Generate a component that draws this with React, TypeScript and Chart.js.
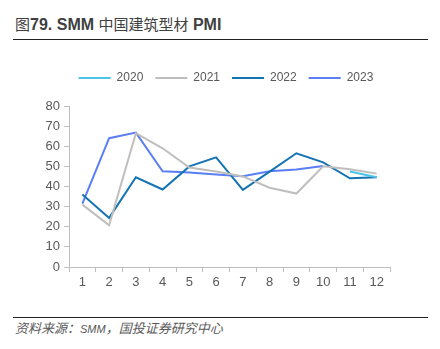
import React, { useEffect, useRef } from "react";
import { Chart, registerables } from "chart.js";

Chart.register(...registerables);

const categories = ["1", "2", "3", "4", "5", "6", "7", "8", "9", "10", "11", "12"];
const s2020 = [null, null, null, null, null, null, null, null, null, null, 47.5, 44.6];
const s2021 = [31, 20.7, 66.5, 59, 49.4, 47.4, 45, 39.4, 36.5, 50, 48.6, 46.4];
const s2022 = [36, 24.4, 44.6, 38.5, 50, 54.5, 38.3, 47.4, 56.5, 52, 44.1, 44.6];
const s2023 = [31.5, 64, 66.8, 47.6, 47, 46, 45.1, 47.6, 48.4, 50.2, null, null];
const seriesNames = ["2020", "2021", "2022", "2023"];
const seriesColors = ["#4cc3ea", "#c0bdbd", "#1473b3", "#5a7ef5"];

const FONT = '"Liberation Sans", Arial, "Noto Sans CJK SC", sans-serif';

export default function App() {
  const ref = useRef<HTMLCanvasElement | null>(null);

  useEffect(() => {
    document.body.style.margin = "0";
    const canvas = ref.current;
    if (!canvas) return;
    const data = [s2020, s2021, s2022, s2023];
    const chart = new Chart(canvas, {
      type: "line",
      data: {
        labels: categories,
        datasets: data.map((d, i) => ({
          label: seriesNames[i],
          data: d,
          borderColor: seriesColors[i],
          backgroundColor: seriesColors[i],
          borderWidth: 2,
          pointRadius: 0,
          tension: 0,
          spanGaps: false,
        })),
      },
      options: {
        animation: false,
        responsive: false,
        maintainAspectRatio: false,
        layout: { padding: { top: 15, left: 0, right: 50, bottom: 0 } },
        plugins: {
          tooltip: { enabled: false },
          legend: {
            position: "top",
            labels: {
              boxWidth: 32,
              boxHeight: 2,
              padding: 12,
              color: "#595959",
              font: { family: FONT, size: 12 },
              generateLabels: (c: any) =>
                Chart.defaults.plugins.legend.labels.generateLabels(c).map((l: any) => ({ ...l, lineWidth: 0 })),
            },
          },
        },
        scales: {
          x: {
            offset: true,
            grid: { display: true, drawOnChartArea: false, drawTicks: true, tickLength: 5, color: "#bfbfbf", offset: true },
            border: { display: true, color: "#bfbfbf" },
            ticks: { color: "#595959", font: { family: FONT, size: 13 }, padding: 3, maxRotation: 0 },
            afterFit: (s: any) => { s.height = 30; },
          },
          y: {
            min: 0,
            max: 80,
            grid: { display: true, drawOnChartArea: false, drawTicks: true, tickLength: 5, color: "#bfbfbf" },
            border: { display: true, color: "#bfbfbf" },
            ticks: { stepSize: 10, color: "#595959", font: { family: FONT, size: 13 }, padding: 4 },
            afterFit: (s: any) => { s.width = 69; },
          },
        },
      },
      plugins: [
        {
          id: "legendGap",
          beforeInit(c: any) {
            const lg = c.legend;
            if (lg) {
              const orig = lg.fit.bind(lg);
              lg.fit = function () {
                orig();
                this.height += 12;
              };
            }
          },
          afterLayout(c: any) {
            const lg = c.legend;
            if (lg) {
              lg.left = 10;
              lg.right = 442;
            }
          },
        },
      ],
    } as any);
    return () => chart.destroy();
  }, []);

  const cjkTitle = { fontWeight: "normal" as const, fontSize: 15 };
  const cjkFoot = { fontSize: 13 };

  return (
    <div style={{ position: "relative", width: 440, height: 349, background: "#fff", overflow: "hidden" }}>
      <div
        style={{
          position: "absolute",
          left: 15,
          top: 15,
          fontFamily: FONT,
          fontSize: 16,
          fontWeight: "bold",
          color: "#404040",
          whiteSpace: "nowrap",
          lineHeight: "20px",
        }}
      >
        <span style={cjkTitle}>图</span>79. SMM <span style={cjkTitle}>中国建筑型材</span> PMI
      </div>
      <div style={{ position: "absolute", left: 13, top: 38.5, width: 415, height: 1.5, background: "#222" }} />
      <canvas ref={ref} width={440} height={252} style={{ position: "absolute", left: 0, top: 45, width: 440, height: 252 }} />
      <div style={{ position: "absolute", left: 13, top: 316.5, width: 415, height: 1.5, background: "#222" }} />
      <div
        style={{
          position: "absolute",
          left: 15,
          top: 320,
          fontFamily: FONT,
          fontSize: 11,
          fontStyle: "italic",
          color: "#595959",
          whiteSpace: "nowrap",
          lineHeight: "18px",
        }}
      >
        <span style={cjkFoot}>资料来源：</span>SMM<span style={cjkFoot}>，国投证券研究中心</span>
      </div>
    </div>
  );
}
